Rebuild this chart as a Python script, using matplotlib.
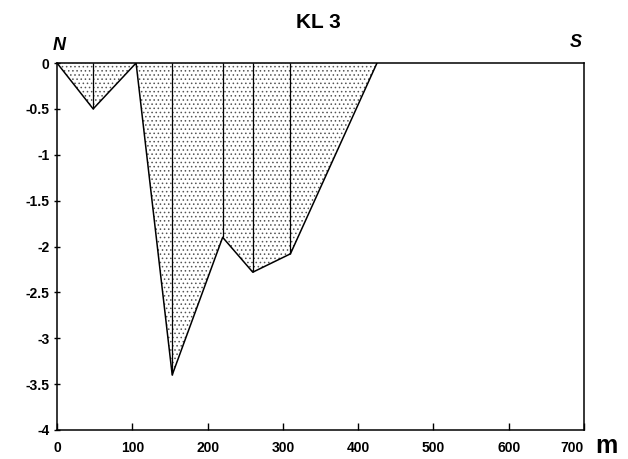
import numpy as np
import matplotlib.pyplot as plt

plt.rcParams['font.family'] = ['Liberation Sans', 'DejaVu Sans']
plt.rcParams['hatch.linewidth'] = 0.6
plt.rcParams['hatch.color'] = '#444444'

# profile along the section (distance in m, depth)
dist = [0, 48, 105, 153, 220, 260, 310, 425]
depth = [0, -0.5, 0, -3.4, -1.9, -2.28, -2.08, 0]

xticks = [0, 100, 200, 300, 400, 500, 600, 700]
yticks = [0, -0.5, -1, -1.5, -2, -2.5, -3, -3.5, -4]
ytick_labels = ["0", "-0.5", "-1", "-1.5", "-2", "-2.5", "-3", "-3.5", "-4"]

fig = plt.figure(figsize=(6.28, 4.59), dpi=100)
ax = fig.add_axes([0.0908, 0.0632, 0.8392, 0.7995])

ax.fill_between(dist, depth, 0, facecolor='white', hatch='....', edgecolor='#555555', linewidth=0)
ax.plot(dist, depth, color='black', lw=1.1)

# sample verticals
for x, d in zip(dist, depth):
    if d < 0:
        ax.vlines(x, d, 0, color='black', lw=0.9)

ax.set_xlim(0, 700)
ax.set_ylim(-4, 0)
ax.set_xticks(xticks)
ax.set_xticklabels([str(t) for t in xticks])
ax.set_yticks(yticks)
ax.set_yticklabels(ytick_labels)
ax.tick_params(axis='x', direction='in', length=5, width=1, labelsize=10, pad=8)
ax.tick_params(axis='y', direction='inout', length=5, width=1, labelsize=10, pad=3)
for lab in ax.get_xticklabels() + ax.get_yticklabels():
    lab.set_fontweight('bold')
ax.get_xticklabels()[-1].set_horizontalalignment('right')
ax.get_xticklabels()[-1].set_x(705)
for s in ax.spines.values():
    s.set_linewidth(1.1)

fig.text(0.507, 0.952, "KL 3", ha='center', va='center', fontsize=15, fontweight='bold')
fig.text(0.094, 0.9, "N", ha='center', va='center', fontsize=13, fontweight='bold', style='italic')
fig.text(0.917, 0.908, "S", ha='center', va='center', fontsize=13, fontweight='bold', style='italic')
fig.text(0.966, 0.028, "m", ha='center', va='center', fontsize=18, fontweight='bold')

fig.savefig("out.png", dpi=100)
